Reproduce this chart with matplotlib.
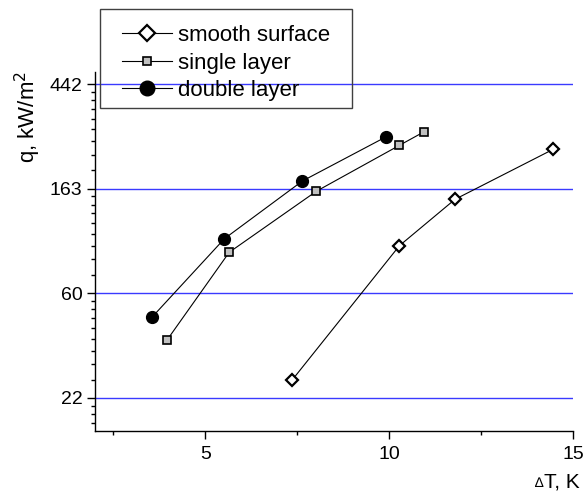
import numpy as np
import matplotlib
matplotlib.use('Agg')
import matplotlib.pyplot as plt
from matplotlib.ticker import FixedLocator, NullFormatter
from matplotlib.patches import Rectangle

plt.rcParams['font.family'] = ['Liberation Sans', 'DejaVu Sans']

# data
smooth_dT = [7.36, 10.28, 11.79, 14.46]
smooth_q = [26.1, 94.3, 146.8, 236.8]

single_dT = [3.96, 5.65, 8.02, 10.28, 10.95]
single_q = [38.3, 88.5, 158.6, 246.0, 280.0]

double_dT = [3.55, 5.52, 7.64, 9.92]
double_q = [47.6, 100.8, 174.9, 267.0]

# ln-scale ticks: 22 * e^k
y_major = 22 * np.exp(np.arange(4))
y_labels = ['22', '60', '163', '442']

W, H = 585, 496
fig = plt.figure(figsize=(W / 100, H / 100), dpi=100)
ax = fig.add_axes([95 / W, 1 - 431 / H, (573 - 95) / W, (431 - 72) / H])

ax.set_yscale('log')
ax.set_xlim(2.0, 15)
ax.set_ylim(16.05, 495.7)

# blue horizontal lines at the major ticks
for v in y_major:
    ax.axhline(v, color='#3a3aff', lw=1.0, zorder=1)

ax.plot(smooth_dT, smooth_q, color='black', lw=0.8, marker='D', ms=6.3,
        mfc='white', mec='black', mew=1.6, label='smooth surface', zorder=3)
ax.plot(single_dT, single_q, color='black', lw=0.8, marker='s', ms=6.2,
        mfc='#c0c0c0', mec='black', mew=1.2, label='single layer', zorder=3)
ax.plot(double_dT, double_q, color='black', lw=0.8, marker='o', ms=8.5,
        mfc='black', mec='black', label='double layer', zorder=3)

# minor ticks: 8 linear steps between neighbouring majors
edges = np.concatenate([[22 / np.e], y_major, [442 * np.e]])
y_minor = []
for a, b in zip(edges[:-1], edges[1:]):
    y_minor += list(a + (b - a) * np.arange(1, 9) / 9)

ax.yaxis.set_major_locator(FixedLocator(y_major))
ax.yaxis.set_minor_locator(FixedLocator(y_minor))
ax.set_yticklabels(y_labels)
ax.yaxis.set_minor_formatter(NullFormatter())

ax.xaxis.set_major_locator(FixedLocator([5, 10, 15]))
ax.xaxis.set_minor_locator(FixedLocator([2.5, 7.5, 12.5]))

ax.spines['top'].set_visible(False)
ax.spines['right'].set_visible(False)
for s in ['left', 'bottom']:
    ax.spines[s].set_linewidth(1.0)

ax.tick_params(which='major', direction='out', length=5.5, width=1.0, labelsize=14)
ax.tick_params(which='minor', direction='out', length=2.8, width=1.0)
ax.tick_params(axis='x', pad=5)

fig.text(28 / W, 1 - 117 / H, 'q, kW/m$^2$', rotation=90, fontsize=16,
         ha='center', va='center')

# x label with a small delta in front
xl = fig.text(580 / W, 1 - 487 / H, 'T, K', fontsize=15, ha='right', va='baseline')
fig.canvas.draw()
bb = xl.get_window_extent()
fig.text((bb.x0 - 0.5) / W, 1 - 487 / H, '\u2206', fontsize=10,
         ha='right', va='baseline')

# legend box drawn by hand, entries placed inside it
fig.patches.append(Rectangle((100 / W, 1 - 108 / H), 252 / W, 99 / H,
                             transform=fig.transFigure, fill=False,
                             edgecolor='#404040', lw=1.0))
leg = fig.legend(loc='center left', bbox_to_anchor=(122 / W, 1 - 63 / H),
                 fontsize=16, frameon=False, handlelength=2.25,
                 handletextpad=0.27, labelspacing=0.3, borderpad=0,
                 borderaxespad=0)
# legend symbols are a bit larger than in the plot
for h, ms in zip(leg.legend_handles, [8.2, 6.4, 10.5]):
    h.set_markersize(ms)

plt.savefig('out.png', dpi=100)
